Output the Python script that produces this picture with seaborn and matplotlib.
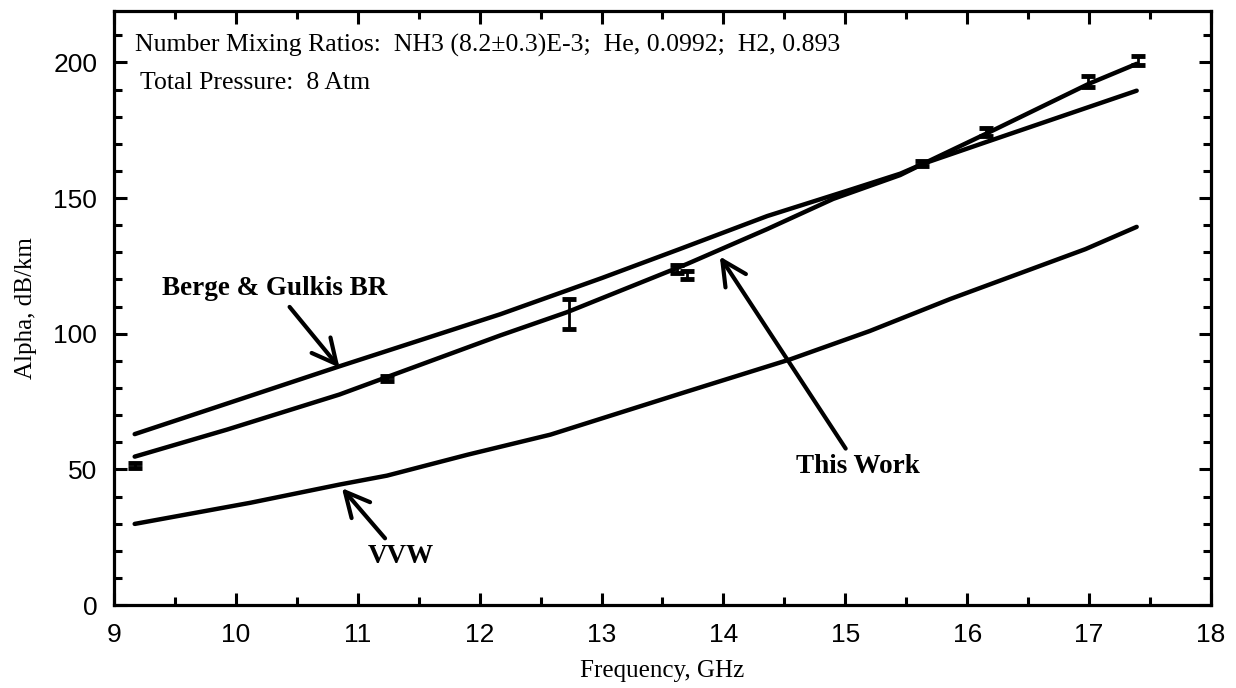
import numpy as np
import pandas as pd
import seaborn as sns
import matplotlib.pyplot as plt
from matplotlib.ticker import MultipleLocator

# Curves (frequency in GHz, alpha in dB/km)
berge_freq = [9.17, 9.93, 10.85, 12.17, 13.0, 13.64, 14.36, 15.0, 15.45, 15.64, 16.19, 17.39]
berge_alpha = [63.0, 74.3, 88.0, 107.2, 120.5, 131.2, 143.4, 152.5, 159.0, 162.7, 171.2, 189.6]

work_freq = [9.17, 9.93, 10.85, 12.17, 12.72, 13.70, 14.36, 14.90, 15.45, 15.64, 16.19, 17.00, 17.39]
work_alpha = [54.7, 64.7, 77.6, 99.4, 108.0, 125.7, 138.6, 149.7, 158.5, 162.7, 174.5, 192.2, 199.5]

vvw_freq = [9.17, 10.12, 10.85, 11.24, 11.90, 12.58, 13.68, 14.55, 15.20, 15.86, 16.97, 17.39]
vvw_alpha = [29.9, 37.7, 44.4, 47.7, 55.4, 62.8, 78.4, 90.6, 101.0, 112.8, 131.2, 139.4]

# Measurements with error bars
meas_freq = [9.17, 11.24, 12.73, 13.62, 13.70, 15.63, 16.15, 16.99, 17.40]
meas_alpha = [51.5, 83.5, 107.2, 124.0, 121.5, 162.7, 174.5, 193.0, 200.7]
meas_err = [1.0, 1.0, 5.5, 1.5, 1.5, 1.0, 1.5, 2.0, 1.6]

sns.set_style("ticks")
plt.rcParams["font.family"] = ["Liberation Sans", "DejaVu Sans"]
plt.rcParams["text.color"] = "black"
plt.rcParams["axes.labelcolor"] = "black"
serif = ["Liberation Serif", "DejaVu Serif"]

fig = plt.figure(figsize=(12.36, 6.88), dpi=100)
ax = fig.add_axes([0.0922, 0.1206, 0.8876, 0.8635])

for f, a in [(berge_freq, berge_alpha), (work_freq, work_alpha), (vvw_freq, vvw_alpha)]:
    sns.lineplot(x=f, y=a, color="black", lw=3.2, ax=ax, sort=False,
                 solid_capstyle="round", solid_joinstyle="round")

ax.errorbar(meas_freq, meas_alpha, yerr=meas_err, fmt="none", ecolor="black",
            elinewidth=2, capsize=5, capthick=3.5)

ax.set_xlim(9, 18)
ax.set_ylim(0, 219)
ax.xaxis.set_major_locator(MultipleLocator(1))
ax.xaxis.set_minor_locator(MultipleLocator(0.5))
ax.yaxis.set_major_locator(MultipleLocator(50))
ax.yaxis.set_minor_locator(MultipleLocator(10))
ax.tick_params(which="both", direction="in", top=True, right=True, width=2.2,
               colors="black")
ax.tick_params(which="major", length=9, labelsize=19)
ax.tick_params(which="minor", length=6)
ax.tick_params(axis="x", pad=13)
ax.tick_params(axis="y", pad=12)
for s in ax.spines.values():
    s.set_linewidth(2.3)
    s.set_color("black")

ax.set_xlabel("Frequency, GHz", family=serif, fontsize=18, labelpad=9)
ax.set_ylabel("Alpha, dB/km", family=serif, fontsize=18, labelpad=12)

ax.text(9.17, 206.3, "Number Mixing Ratios:  NH3 (8.2\u00b10.3)E-3;  He, 0.0992;  H2, 0.893",
        family=serif, fontsize=18.5, va="center", ha="left")
ax.text(9.21, 192.5, "Total Pressure:  8 Atm", family=serif, fontsize=18.5,
        va="center", ha="left")

arrow = dict(arrowstyle="->,head_length=0.9,head_width=0.45", lw=3, color="black",
             shrinkA=2, shrinkB=0)
ax.annotate("Berge & Gulkis BR", xy=(10.85, 87.5), xytext=(10.32, 116.5),
            family=serif, fontsize=19.5, fontweight="bold", ha="center", va="center",
            arrowprops=arrow)
ax.annotate("This Work", xy=(13.97, 128.5), xytext=(15.1, 51),
            family=serif, fontsize=19.5, fontweight="bold", ha="center", va="center",
            arrowprops=arrow)
ax.annotate("VVW", xy=(10.87, 43.1), xytext=(11.35, 18),
            family=serif, fontsize=19.5, fontweight="bold", ha="center", va="center",
            arrowprops=arrow)

fig.savefig("out.png", dpi=100)
